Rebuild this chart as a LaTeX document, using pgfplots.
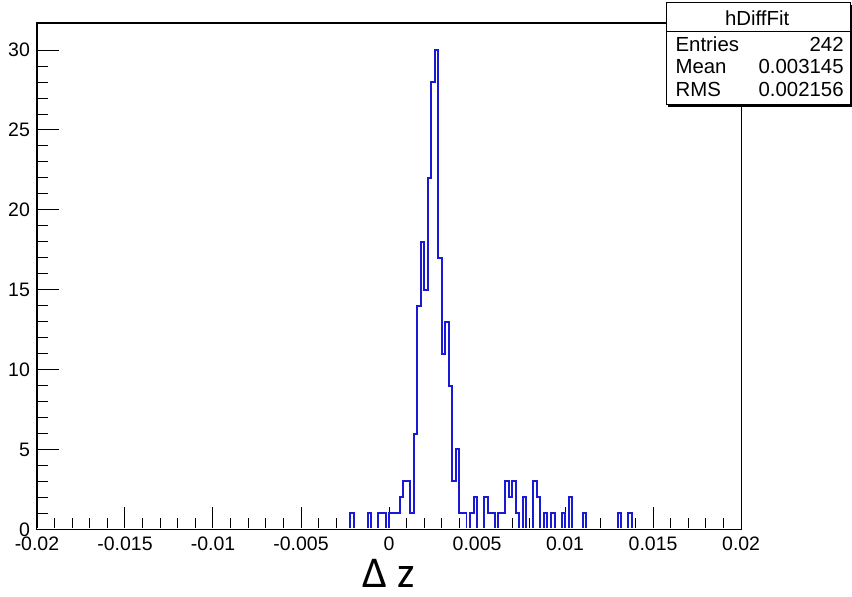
\documentclass[border=0pt]{standalone}
\usepackage{fontspec}
\setmainfont{Liberation Sans}
\newfontfamily\calibri{Carlito}
\usepackage{pgfplots}
\pgfplotsset{compat=1.18}
\usepackage{pgfplotstable}

\definecolor{histblue}{RGB}{25,25,215}

% bin left edge, entries (bin width 0.0002)
\pgfplotstableread{
x c
-0.0022 0
-0.0022 1
-0.0020 0
-0.0018 0
-0.0016 0
-0.0014 0
-0.0012 1
-0.0010 0
-0.0008 0
-0.0006 1
-0.0004 1
-0.0002 0
0.0000 1
0.0002 1
0.0004 1
0.0006 2
0.0008 3
0.0010 3
0.0012 1
0.0014 6
0.0016 14
0.0018 18
0.0020 15
0.0022 22
0.0024 28
0.0026 30
0.0028 17
0.0030 11
0.0032 13
0.0034 9
0.0036 3
0.0038 5
0.0040 1
0.0042 1
0.0044 0
0.0046 1
0.0048 2
0.0050 0
0.0052 0
0.0054 2
0.0056 1
0.0058 1
0.0060 0
0.0062 1
0.0064 1
0.0066 3
0.0068 2
0.0070 3
0.0072 1
0.0074 0
0.0076 2
0.0078 0
0.0080 0
0.0082 3
0.0084 2
0.0086 0
0.0088 1
0.0090 0
0.0092 1
0.0094 0
0.0096 0
0.0098 1
0.0100 0
0.0102 2
0.0104 0
0.0106 0
0.0108 0
0.0110 1
0.0112 0
0.0130 1
0.0132 0
0.0134 0
0.0136 1
0.0138 0
}\hdiff

\begin{document}
\begin{tikzpicture}
\begin{axis}[
    name=ax,
    scale only axis,
    width=352.5pt, height=253.5pt,
    xmin=-0.02, xmax=0.02,
    ymin=0, ymax=31.7,
    xtick={-0.02,-0.015,-0.01,-0.005,0,0.005,0.01,0.015,0.02},
    ytick={0,5,10,15,20,25,30},
    minor x tick num=4,
    minor y tick num=4,
    scaled x ticks=false,
    tick align=inside,
    xtick pos=bottom, ytick pos=left,
    major tick length=11pt,
    minor tick length=5.5pt,
    tick style={black, line width=0.5pt},
    axis line style={black, line width=0.55pt},
    /pgf/number format/.cd, fixed, precision=3, assume math mode=true,
    /pgfplots/.cd,
    ticklabel style={font=\fontsize{9.75}{11}\selectfont},
    xlabel={Δ z},
    xlabel style={at={(axis description cs:0.5,0)}, anchor=center, yshift=-22pt,
        font=\calibri\fontsize{22}{24}\selectfont},
]
\addplot[const plot, color=histblue, line width=1pt, line join=miter, mark=none] table {\hdiff};
% empty bins lie on the frame: keep the frame line black there
\draw[white, line width=1.2pt] (rel axis cs:0,0) -- (rel axis cs:1,0);
\draw[black, line width=0.6pt] (rel axis cs:0,0) -- (rel axis cs:1,0);
\end{axis}

\begin{scope}[shift={(ax.south west)}, x=0.5pt, y=0.5pt]
  % stats box
  \fill[black] (632,423) rectangle (816,525);
  \filldraw[fill=white, draw=black, line width=0.5pt] (630,425) rectangle (814,527);
  \draw[black, line width=0.5pt] (630,498.5) -- (814,498.5);
  \begin{scope}[font=\fontsize{10.2}{11}\selectfont, inner sep=0pt]
    \node[anchor=center] at (721,512) {hDiffFit};
    \node[anchor=west] at (639,486) {Entries};
    \node[anchor=east] at (808,486) {242};
    \node[anchor=west] at (639,463) {Mean};
    \node[anchor=east] at (808,463) {0.003145};
    \node[anchor=west] at (639,440) {RMS};
    \node[anchor=east] at (808,440) {0.002156};
  \end{scope}
  % page extent
  \path (-37,-67) rectangle (815,530);
\end{scope}
\end{tikzpicture}
\end{document}
